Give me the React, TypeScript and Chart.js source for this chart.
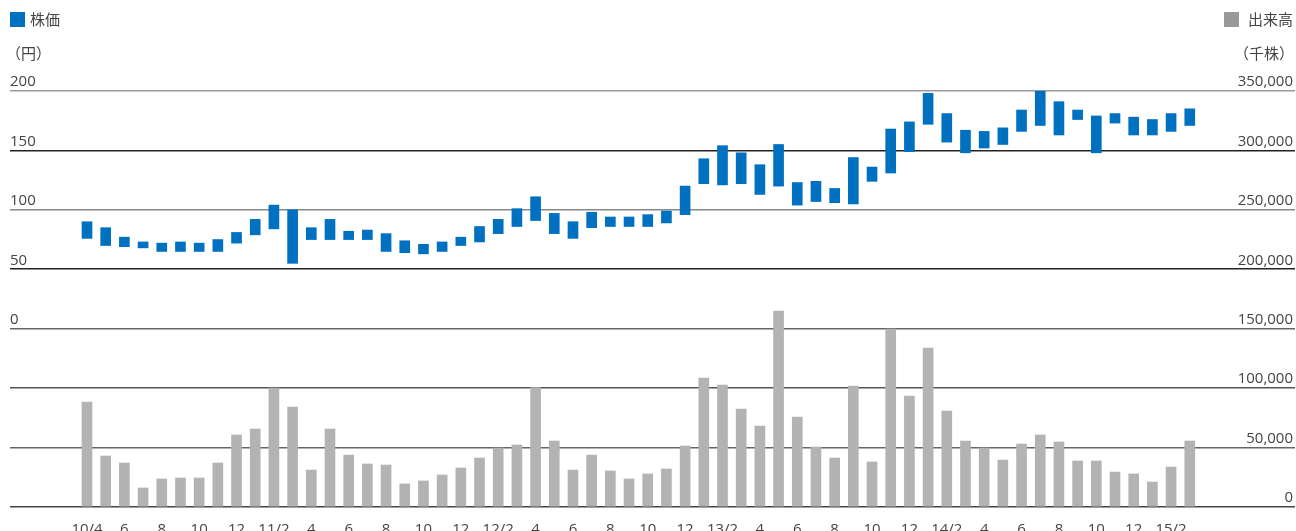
import React, { useEffect, useRef } from "react";
import { Chart, registerables } from "chart.js";

Chart.register(...registerables);

// Months 10/4 .. 15/3
const months: string[] = [
  "10/4","10/5","10/6","10/7","10/8","10/9","10/10","10/11","10/12",
  "11/1","11/2","11/3","11/4","11/5","11/6","11/7","11/8","11/9","11/10","11/11","11/12",
  "12/1","12/2","12/3","12/4","12/5","12/6","12/7","12/8","12/9","12/10","12/11","12/12",
  "13/1","13/2","13/3","13/4","13/5","13/6","13/7","13/8","13/9","13/10","13/11","13/12",
  "14/1","14/2","14/3","14/4","14/5","14/6","14/7","14/8","14/9","14/10","14/11","14/12",
  "15/1","15/2","15/3",
];

// x-axis tick labels, every other month
const tickLabels: string[] = [
  "10/4","6","8","10","12",
  "11/2","4","6","8","10","12",
  "12/2","4","6","8","10","12",
  "13/2","4","6","8","10","12",
  "14/2","4","6","8","10","12",
  "15/2",
];

// Stock price range (yen)
const priceLow: number[] = [
  76,70,69,68,65,65,65,65,72,79,
  84,55,75,75,75,75,65,64,63,65,
  70,73,80,86,91,80,76,85,86,86,
  86,89,96,122,121,122,113,120,104,107,
  106,105,124,131,149,172,157,148,152,155,
  166,171,163,176,148,173,163,163,166,171,
];
const priceHigh: number[] = [
  90,85,77,73,72,73,72,75,81,92,
  104,100,85,92,82,83,80,74,71,73,
  77,86,92,101,111,97,90,98,94,94,
  96,99,120,143,154,148,138,155,123,124,
  118,144,136,168,174,198,181,167,166,169,
  184,200,191,184,179,181,178,176,181,185,
];

// Trading volume (thousand shares)
const volume: number[] = [
  88300,42900,37000,16000,23600,24400,24400,37000,60600,65600,
  100000,84100,31100,65600,43700,36200,35300,19400,21900,26900,
  32800,41200,49600,52200,100400,55500,31100,43700,30300,23600,
  27800,32000,51300,108500,102600,82400,68100,164900,75700,50500,
  41200,101800,37900,149700,93400,133800,80800,55500,49600,39500,
  53000,60600,54700,38700,38700,29400,27800,21000,33600,55500,
];

const priceTicksMin = -150;
const priceTicksMax = 200;
const volumeMax = 350000;

const BLUE = "#0070C0";
const GRAY = "#B3B3B3";
const TEXT = "#444444";
const FONT = '"Open Sans", "Noto Sans CJK JP", sans-serif';
// bottom -> top
const gridColors = ["#444444", "#666666", "#555555", "#666666", "#222222", "#888888", "#222222", "#999999"];

export default function App() {
  const ref = useRef<HTMLCanvasElement | null>(null);

  useEffect(() => {
    if (!ref.current) return;
    const chart = new Chart(ref.current, {
      type: "bar",
      data: {
        datasets: [
          {
            label: "株価",
            data: months.map((_, i) => ({ x: i, y: [priceLow[i], priceHigh[i]] })) as any,
            backgroundColor: BLUE,
            borderWidth: 0,
            barThickness: 10,
            grouped: false,
            yAxisID: "yP",
          } as any,
          {
            label: "出来高",
            data: months.map((_, i) => ({ x: i, y: volume[i] })) as any,
            backgroundColor: GRAY,
            borderWidth: 0,
            barThickness: 10,
            grouped: false,
            yAxisID: "yV",
          } as any,
        ],
      },
      options: {
        animation: false,
        responsive: false,
        devicePixelRatio: 1,
        layout: { padding: { top: 91, left: 10, right: 0, bottom: 0 } },
        plugins: { legend: { display: false }, tooltip: { enabled: false } },
        scales: {
          x: {
            type: "linear",
            position: "bottom",
            offset: false,
            min: -4.12,
            max: 64.63,
            grid: { display: false, offset: false },
            border: { display: false },
            afterBuildTicks: (axis: any) => {
              axis.ticks = tickLabels.map((_, k) => ({ value: k * 2 }));
            },
            afterFit: (axis: any) => {
              axis.height = 24;
            },
            ticks: {
              autoSkip: false,
              maxRotation: 0,
              padding: 6,
              color: TEXT,
              font: { family: FONT, size: 15 },
              callback: (v: any) => tickLabels[Math.round(Number(v) / 2)] ?? "",
            },
          },
          yP: {
            type: "linear",
            position: "left",
            min: priceTicksMin,
            max: priceTicksMax,
            grid: { display: false },
            border: { display: false },
            afterFit: (axis: any) => {
              axis.width = 0;
            },
            ticks: {
              stepSize: 50,
              mirror: true,
              padding: 0,
              labelOffset: -9,
              color: TEXT,
              font: { family: FONT, size: 15 },
              callback: (v: any) => (Number(v) >= 0 ? String(v) : ""),
            },
          },
          yV: {
            type: "linear",
            position: "right",
            min: 0,
            max: volumeMax,
            border: { display: false },
            grid: {
              drawTicks: false,
              lineWidth: 1.6,
              color: (ctx: any) => gridColors[ctx.index] ?? "#666666",
            },
            afterFit: (axis: any) => {
              axis.width = 1;
            },
            ticks: {
              stepSize: 50000,
              mirror: true,
              padding: -2,
              labelOffset: -9,
              color: TEXT,
              font: { family: FONT, size: 15 },
              callback: (v: any) => Number(v).toLocaleString("en-US"),
            },
          },
        },
      } as any,
    });
    return () => chart.destroy();
  }, []);

  const txt: React.CSSProperties = {
    position: "absolute",
    fontFamily: FONT,
    fontSize: 15,
    color: TEXT,
    lineHeight: "18px",
    whiteSpace: "nowrap",
  };

  return (
    <div
      style={{
        position: "fixed",
        left: 0,
        top: 0,
        width: 1296,
        height: 531,
        overflow: "hidden",
        background: "#fff",
      }}
    >
      <canvas ref={ref} width={1296} height={531} style={{ position: "absolute", left: 0, top: 0 }} />
      <div style={{ position: "absolute", left: 10, top: 12, width: 15, height: 15, background: BLUE }} />
      <div style={{ ...txt, left: 30, top: 10 }}>株価</div>
      <div style={{ ...txt, left: 6, top: 44 }}>（円）</div>
      <div style={{ position: "absolute", left: 1224, top: 12, width: 15, height: 15, background: "#999999" }} />
      <div style={{ ...txt, right: 3, top: 10 }}>出来高</div>
      <div style={{ ...txt, right: 2, top: 44 }}>（千株）</div>
    </div>
  );
}
